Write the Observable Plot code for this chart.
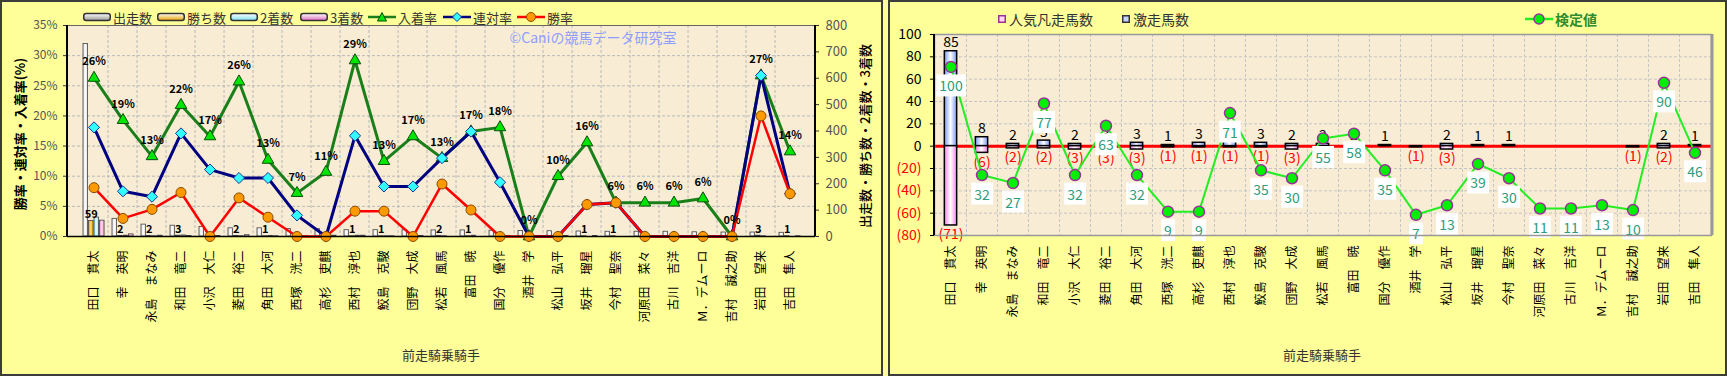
<!DOCTYPE html>
<html><head><meta charset="utf-8">
<script src="https://cdn.jsdelivr.net/npm/d3@7"></script>
<script src="https://cdn.jsdelivr.net/npm/@observablehq/plot@0.6"></script>
<style>
body{margin:0;background:#FFFF99;width:1727px;height:376px;overflow:hidden;position:relative;font-family:"Noto Sans CJK JP",sans-serif;}
.panel{position:absolute;top:0;height:376px;box-sizing:border-box;border:2px solid #3c3c3c;background:#FFFF99;}
#left{left:0;width:883px;}
#right{left:888px;width:839px;}
.panel svg.main{position:absolute;left:0;top:0;}
.abs{position:absolute;white-space:nowrap;line-height:1;}
.leg{position:absolute;display:flex;align-items:center;height:20px;font-size:13px;color:#333;white-space:nowrap;}
.rot{position:absolute;white-space:nowrap;transform:translate(-50%,-50%) rotate(-90deg);font-size:13px;color:#000;}
.ctr{position:absolute;white-space:nowrap;transform:translate(-50%,-50%);}
</style></head><body>
<div id="left" class="panel"></div>
<div id="right" class="panel"></div>
<script>
// ---------- data ----------
const jockeys = ["田口　貫太","幸　英明","永島　まなみ","和田　竜二","小沢　大仁","菱田　裕二","角田　大河","西塚　洸二","高杉　吏麒","西村　淳也","鮫島　克駿","団野　大成","松若　風馬","富田　暁","国分　優作","酒井　学","松山　弘平","坂井　瑠星","今村　聖奈","河原田　菜々","古川　吉洋","Ｍ．デムーロ","吉村　誠之助","岩田　望来","吉田　隼人"];
// left chart (counts, right axis)
const runs    = [730,67,45,41,36,31,31,28,28,24,24,24,23,23,22,21,20,19,18,18,18,16,15,15,14];
const wins    = [59,2,2,3,0,2,1,0,0,1,1,0,2,1,0,0,0,1,1,0,0,0,0,3,1];
const seconds = [72,3,1,4,4,1,2,1,0,3,1,2,1,3,2,0,0,0,0,0,0,0,0,1,0];
const thirds  = [60,8,3,2,2,5,1,1,3,3,1,2,0,0,2,0,2,2,0,1,1,1,0,0,1];
// left chart (rates %, left axis)
const winRate     = [8.1,3.0,4.5,7.3,0,6.4,3.2,0,0,4.2,4.2,0,8.7,4.4,0,0,0,5.3,5.6,0,0,0,0,20.0,7.1];
const rentaiRate  = [18.1,7.5,6.6,17.1,11.1,9.7,9.7,3.5,0,16.7,8.3,8.3,13.0,17.4,9.0,0,0,5.3,5.6,0,0,0,0,26.7,7.1];
const nyuchakuRate= [26.3,19.3,13.3,21.8,16.6,25.7,12.7,7.2,10.7,29.2,12.5,16.6,13.0,17.4,18.1,0,10.0,15.6,5.6,5.6,5.6,6.3,0,26.7,14.1];
const pctTicks   = [0,5,10,15,20,25,30,35];
const countTicks = [0,100,200,300,400,500,600,700,800];
// right chart
const gekisou     = [85,8,2,5,2,3,3,1,3,4,3,2,2,2,1,0,2,1,1,0,0,0,0,2,1];
const ninkiBonsou = [71,6,2,2,3,3,3,1,1,1,1,3,0,0,0,1,3,0,0,0,0,0,1,2,0];
const kenteichi   = [100,32,27,77,32,63,32,9,9,71,35,30,55,58,35,7,13,39,30,11,11,13,10,90,46];
const rightTicks  = [100,80,60,40,20,0,-20,-40,-60,-80];
const kenteiAxis  = [-6,120.4];   // hidden secondary axis of 検定値

const FONT = '"Noto Sans CJK JP", sans-serif';

// ---------- left chart ----------
const leftRows = jockeys.map((name,i)=>({name,runs:runs[i],wins:wins[i],second:seconds[i],third:thirds[i],win:winRate[i],ren:rentaiRate[i],show:nyuchakuRate[i]}));
const LW = 879, LH = 372, LML = 65, LMR = 66, LMT = 23, LMB = 138;
const countMax = 800, pctMax = 35;
const c2p = v => v * pctMax / countMax;          // secondary (count) axis -> primary
const lbw = (LW - LML - LMR) / jockeys.length;
const slotW = 5.5, slot0 = 4;
const slotBar = (field, k, fill) => Plot.barY(leftRows, {
  x: "name", y: d => c2p(d[field]), fill, stroke: "#444", strokeWidth: 0.8,
  insetLeft: slot0 + slotW*k, insetRight: lbw - (slot0 + slotW*(k+1))
});
const left = Plot.plot({
  width: LW, height: LH, marginLeft: LML, marginRight: LMR, marginTop: LMT, marginBottom: LMB,
  style: {fontFamily: FONT, background: "none", overflow: "visible"},
  x: {type: "band", domain: jockeys, padding: 0, axis: null},
  y: {domain: [0, pctMax], axis: null},
  marks: [
    Plot.frame({fill: "#F8EDD4", stroke: null}),
    Plot.gridY(pctTicks, {stroke: "#b8b8b8", strokeOpacity: 1, strokeDasharray: "3,2"}),
    Plot.ruleX(jockeys.slice(1), {x: d => d, dx: -lbw/2, stroke: "#b8b8b8", strokeDasharray: "3,2"}),
    slotBar("runs", 0, "url(#gW)"),
    slotBar("wins", 1, "url(#gO)"),
    slotBar("second", 2, "url(#gC)"),
    slotBar("third", 3, "url(#gP)"),
    Plot.text(leftRows.filter(d => d.wins > 0), {x: "name", y: d => c2p(d.wins), text: d => String(d.wins),
      dx: slot0 + slotW*1.5 - lbw/2, dy: -3, lineAnchor: "bottom", fontSize: 11, fontWeight: "bold", fill: "#000"}),
    Plot.line(leftRows, {x: "name", y: "show", stroke: "#1A7F1A", strokeWidth: 3}),
    Plot.dot(leftRows, {x: "name", y: "show", symbol: "triangle", r: 4.3, fill: "#00E600", stroke: "#0B4D0B", strokeWidth: 1}),
    Plot.line(leftRows, {x: "name", y: "ren", stroke: "#000080", strokeWidth: 3}),
    Plot.dot(leftRows, {x: "name", y: "ren", symbol: "diamond2", r: 5, fill: "#33FFFF", stroke: "#1a3399", strokeWidth: 1}),
    Plot.line(leftRows, {x: "name", y: "win", stroke: "#FF0000", strokeWidth: 2.5}),
    Plot.dot(leftRows, {x: "name", y: "win", r: 5, fill: "#FF9900", stroke: "#8a4a00", strokeWidth: 1}),
    Plot.text(leftRows, {x: "name", y: "show", text: d => Math.round(d.show) + "%", dy: -16, fontSize: 11, fontWeight: "bold", fill: "#000"}),
    Plot.frame({stroke: "#666", strokeWidth: 1}),
    Plot.ruleY([0], {stroke: "#000", strokeWidth: 1.5}),
    Plot.axisY(pctTicks, {anchor: "left", tickFormat: d => d + "%", tickSize: 4, tickPadding: 6, fontSize: 12, fill: "#555", stroke: "#333", label: null}),
    Plot.axisY(countTicks.map(c2p), {anchor: "right", tickFormat: d => String(Math.round(d * countMax / pctMax)), tickSize: 3, tickPadding: 7, fontSize: 13, fill: "#555", stroke: "#333", label: null}),
    Plot.axisX({anchor: "bottom", tickRotate: -90, tickSize: 0, tickPadding: 14, fontSize: 12, fill: "#000", label: null})
  ]
});
left.classList.add("main");
document.getElementById("left").appendChild(left);

function addGrad(svg, id, edge, mid, vertical) {
  let defs = d3.select(svg).select("defs.custom");
  if (defs.empty()) defs = d3.select(svg).insert("defs", ":first-child").attr("class", "custom");
  const g = defs.append("linearGradient").attr("id", id).attr("x1", 0).attr("y1", 0).attr("x2", vertical ? 0 : 1).attr("y2", vertical ? 1 : 0);
  g.append("stop").attr("offset", 0).attr("stop-color", edge);
  g.append("stop").attr("offset", 0.5).attr("stop-color", mid);
  g.append("stop").attr("offset", 1).attr("stop-color", edge);
}
addGrad(left, "gW", "#d8d8d8", "#ffffff");
addGrad(left, "gO", "#E8A000", "#FFE070");
addGrad(left, "gC", "#8EE8F8", "#E8FFFF");
addGrad(left, "gP", "#EE88CC", "#FFE0F4");
{
  const xr = left.scale("x").range, yr = left.scale("y").range;
  const s = d3.select(left);
  s.append("line").attr("x1", xr[0]).attr("x2", xr[0]).attr("y1", yr[0]).attr("y2", yr[1]).attr("stroke", "#000").attr("stroke-width", 2);
  s.append("line").attr("x1", xr[1]).attr("x2", xr[1]).attr("y1", yr[0]).attr("y2", yr[1]).attr("stroke", "#000").attr("stroke-width", 2);
}

// ---------- right chart ----------
const kScale = d3.scaleLinear().domain(kenteiAxis).range([rightTicks[rightTicks.length-1], rightTicks[0]]);
const rightRows = jockeys.map((name,i)=>({name,pos:gekisou[i],neg:ninkiBonsou[i],test:kenteichi[i]}));
const RW = 835, RH = 372, RML = 44, RMR = 14, RMT = 32, RMB = 139;
const rbw = (RW - RML - RMR) / jockeys.length;
const barIn = (rbw - 12.4) / 2;
const right = Plot.plot({
  width: RW, height: RH, marginLeft: RML, marginRight: RMR, marginTop: RMT, marginBottom: RMB,
  style: {fontFamily: FONT, background: "none", overflow: "visible"},
  x: {type: "band", domain: jockeys, padding: 0, axis: null},
  y: {domain: [rightTicks[rightTicks.length-1], rightTicks[0]], axis: null},
  marks: [
    Plot.frame({fill: "#F8EDD4", stroke: null}),
    Plot.gridY(rightTicks, {stroke: "#c4c4c4", strokeOpacity: 1, strokeDasharray: "3,2"}),
    Plot.ruleX(jockeys.slice(1), {x: d => d, dx: -rbw/2, stroke: "#c4c4c4", strokeDasharray: "3,2"}),
    Plot.ruleY([0], {stroke: "#FF0000", strokeWidth: 3}),
    Plot.barY(rightRows.filter(d => d.pos > 0), {x: "name", y: "pos", fill: "url(#gB)", stroke: "#000", strokeWidth: 1.5, insetLeft: barIn, insetRight: barIn}),
    Plot.barY(rightRows.filter(d => d.neg > 0), {x: "name", y: d => -d.neg, fill: "url(#gPk)", stroke: "#000", strokeWidth: 1.5, insetLeft: barIn, insetRight: barIn}),
    Plot.text(rightRows.filter(d => d.pos > 0), {x: "name", y: "pos", text: d => String(d.pos), lineAnchor: "bottom", dy: -4, fontSize: 14, fill: "#000"}),
    Plot.text(rightRows.filter(d => d.neg > 0), {x: "name", y: d => -d.neg, text: d => "(" + d.neg + ")", lineAnchor: "top", dy: 4, fontSize: 14, fill: "#FF0000"}),
    Plot.line(rightRows, {x: "name", y: d => kScale(d.test), stroke: "#22EE22", strokeWidth: 2}),
    Plot.dot(rightRows, {x: "name", y: d => kScale(d.test), r: 5.5, fill: "#00F000", stroke: "#993399", strokeWidth: 1.5}),
    Plot.text(rightRows, {x: "name", y: d => kScale(d.test), text: d => String(d.test), dy: 20, fontSize: 14, fill: "#2E9C7C", className: "vlab"}),
    Plot.frame({stroke: "#999", strokeWidth: 1.5}),
    Plot.axisY(rightTicks.filter(d => d >= 0), {anchor: "left", tickSize: 4, tickPadding: 9, fontSize: 14, fill: "#000", stroke: "#000", label: null}),
    Plot.axisY(rightTicks.filter(d => d < 0), {anchor: "left", tickFormat: d => "(" + (-d) + ")", tickSize: 4, tickPadding: 9, fontSize: 14, fill: "#FF0000", stroke: "#000", label: null}),
    Plot.axisX({anchor: "bottom", tickRotate: -90, tickSize: 0, tickPadding: 10, fontSize: 12, fill: "#000", label: null})
  ]
});
right.classList.add("main");
document.getElementById("right").appendChild(right);
addGrad(right, "gB", "#7A98FF", "#FFFFFF");
addGrad(right, "gPk", "#FF80EE", "#FFFFFF");
{
  const xr = right.scale("x").range, yr = right.scale("y").range;
  const s = d3.select(right);
  s.append("line").attr("x1", xr[1]+1).attr("x2", xr[1]+1).attr("y1", yr[0]).attr("y2", yr[1]).attr("stroke", "#999").attr("stroke-width", 3);
  s.append("line").attr("x1", xr[0]).attr("x2", xr[0]).attr("y1", yr[0]).attr("y2", yr[1]).attr("stroke", "#000").attr("stroke-width", 2);
  s.selectAll("g.vlab text").each(function() {
    const b = this.getBBox();
    d3.select(this.parentNode).insert("rect", () => this)
      .attr("x", b.x - 3).attr("y", b.y - 1).attr("width", b.width + 6).attr("height", b.height + 2)
      .attr("fill", "#fff").attr("transform", this.getAttribute("transform"));
  });
}

// ---------- overlays (legends, titles) ----------
function add(parentId, cls, html, css) {
  const d = document.createElement("div");
  d.className = cls; d.innerHTML = html; Object.assign(d.style, css);
  document.getElementById(parentId).appendChild(d);
}
let gid = 0;
function barIcon(c) {
  const id = "li" + (gid++);
  return `<svg width="28" height="10" style="margin-right:2px"><defs><linearGradient id="${id}" x1="0" y1="0" x2="0" y2="1"><stop offset="0" stop-color="#fff"/><stop offset="1" stop-color="${c}"/></linearGradient></defs><rect x="0.75" y="1.5" width="26.5" height="7" rx="2.5" fill="url(#${id})" stroke="#333" stroke-width="1.5"/></svg>`;
}
function lineIcon(c, marker) {
  return `<svg width="28" height="14" style="margin-right:2px"><line x1="0" x2="28" y1="7" y2="7" stroke="${c}" stroke-width="2.5"/>${marker}</svg>`;
}
const leftLegend = [
  {x: 81, icon: barIcon("#999"), text: "出走数"},
  {x: 155, icon: barIcon("#E8A000"), text: "勝ち数"},
  {x: 228, icon: barIcon("#7fe0f0"), text: "2着数"},
  {x: 298, icon: barIcon("#e070c0"), text: "3着数"},
  {x: 366, icon: lineIcon("#1A7F1A", `<path d="M14,2.5 L18.5,11 L9.5,11 Z" fill="#00E600" stroke="#0B4D0B"/>`), text: "入着率"},
  {x: 441, icon: lineIcon("#000080", `<path d="M14,2.5 L18.5,7 L14,11.5 L9.5,7 Z" fill="#33FFFF" stroke="#1a3399"/>`), text: "連対率"},
  {x: 515, icon: lineIcon("#FF0000", `<circle cx="14" cy="7" r="4.5" fill="#FF9900" stroke="#8a4a00"/>`), text: "勝率"}
];
leftLegend.forEach(o => add("left", "leg", o.icon + `<span>${o.text}</span>`, {left: o.x + "px", top: "5px"}));
add("left", "ctr", "©Caniの競馬データ研究室", {left: "591px", top: "35px", fontSize: "14px", color: "#8E9CFF"});
add("left", "rot", "勝率・連対率・入着率(%)", {left: "17px", top: "132px", fontWeight: "bold"});
add("left", "rot", "出走数・勝ち数・2着数・3着数", {left: "862px", top: "134px", fontWeight: "500"});
add("left", "ctr", "前走騎乗騎手", {left: "439px", top: "352px", fontSize: "13px", color: "#333"});

add("right", "leg", `<svg width="8" height="8" style="margin-right:3px"><rect x="0.75" y="0.75" width="6.5" height="6.5" fill="#FFD8F4" stroke="#993399" stroke-width="1.5"/></svg><span>人気凡走馬数</span>`, {left: "108px", top: "7px", fontSize: "14px"});
add("right", "leg", `<svg width="8" height="8" style="margin-right:3px"><rect x="0.75" y="0.75" width="6.5" height="6.5" fill="#C8D4FF" stroke="#333" stroke-width="1.5"/></svg><span>激走馬数</span>`, {left: "232px", top: "7px", fontSize: "14px"});
add("right", "leg", lineIcon("#22EE22", `<circle cx="14" cy="7" r="5" fill="#00F000" stroke="#993399" stroke-width="1.5"/>`) + `<span style="color:#2E8B2E;font-weight:bold">検定値</span>`, {left: "635px", top: "7px", fontSize: "14px"});
add("right", "ctr", "前走騎乗騎手", {left: "432px", top: "352px", fontSize: "13px", color: "#333"});
</script>
</body></html>
